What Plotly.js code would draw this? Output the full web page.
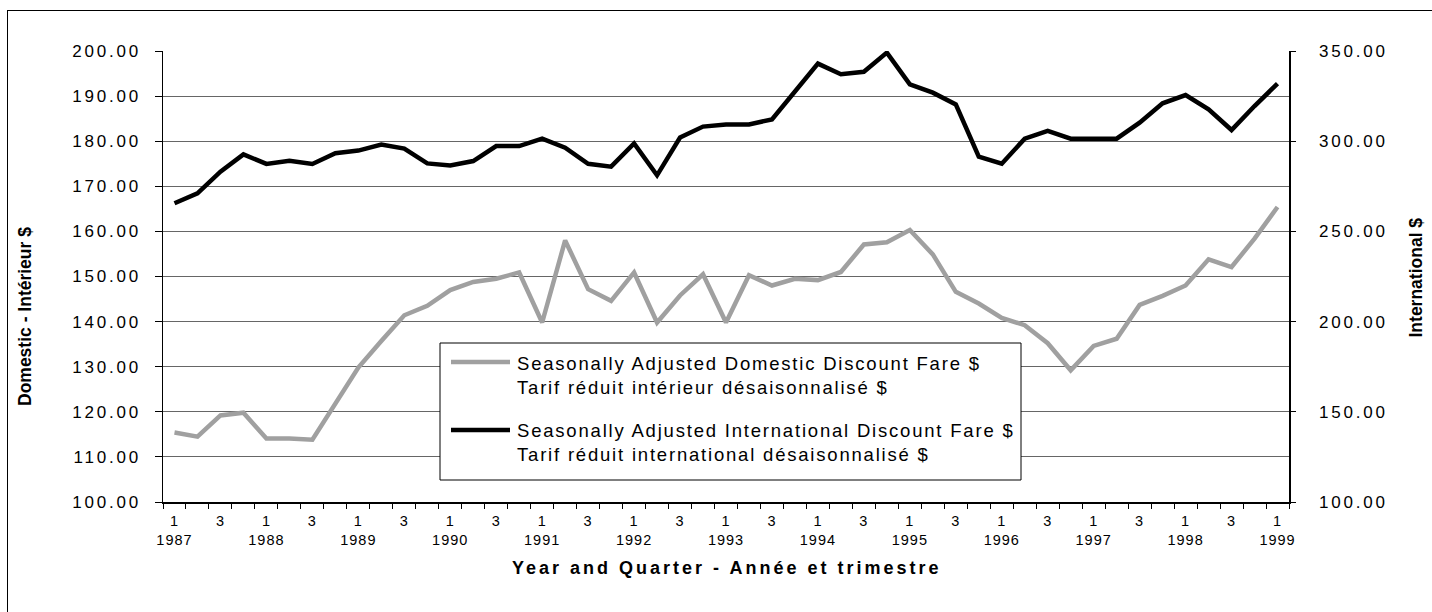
<!DOCTYPE html>
<html><head><meta charset="utf-8">
<script src="https://cdn.plot.ly/plotly-3.0.1.min.js"></script>
<style>
html,body{margin:0;padding:0;background:#fff;overflow:hidden;}
#frame{position:absolute;left:7px;top:10px;width:1425px;height:602px;box-sizing:border-box;border-left:1px solid #000;border-top:1px solid #000;}
#chart{position:absolute;left:0;top:0;width:1432px;height:612px;}
.ytick text,.y2tick text{letter-spacing:2.8px;}
.xtick text{letter-spacing:1px;}
</style></head><body>
<div id="frame"></div><div id="chart"></div>
<script>
const categories = [
 "1987 Q1","1987 Q2","1987 Q3","1987 Q4",
 "1988 Q1","1988 Q2","1988 Q3","1988 Q4",
 "1989 Q1","1989 Q2","1989 Q3","1989 Q4",
 "1990 Q1","1990 Q2","1990 Q3","1990 Q4",
 "1991 Q1","1991 Q2","1991 Q3","1991 Q4",
 "1992 Q1","1992 Q2","1992 Q3","1992 Q4",
 "1993 Q1","1993 Q2","1993 Q3","1993 Q4",
 "1994 Q1","1994 Q2","1994 Q3","1994 Q4",
 "1995 Q1","1995 Q2","1995 Q3","1995 Q4",
 "1996 Q1","1996 Q2","1996 Q3","1996 Q4",
 "1997 Q1","1997 Q2","1997 Q3","1997 Q4",
 "1998 Q1","1998 Q2","1998 Q3","1998 Q4",
 "1999 Q1"
];
const domestic = [
 115.4,114.5,119.2,119.8,
 114.1,114.1,113.8,122.0,
 129.8,135.7,141.4,143.5,
 147.0,148.8,149.5,150.9,
 139.8,158.0,147.2,144.6,
 150.9,139.8,145.8,150.5,
 139.8,150.3,148.0,149.5,
 149.2,151.0,157.1,157.6,
 160.3,154.9,146.6,144.0,
 140.8,139.2,135.2,129.2,
 134.6,136.2,143.7,145.7,
 148.0,153.8,152.1,158.4,
 165.4
];
const international = [
 265.6,271.1,283.1,292.7,
 287.4,289.2,287.4,293.3,
 294.8,298.1,295.9,287.7,
 286.6,289.0,297.3,297.3,
 301.4,296.4,287.5,285.9,
 298.8,281.1,302.0,308.1,
 309.2,309.3,312.1,327.8,
 343.0,337.1,338.5,349.1,
 331.5,326.9,320.4,291.4,
 287.5,301.4,305.7,301.4,
 301.4,301.4,310.3,321.0,
 325.6,317.7,306.2,319.5,
 331.9
];
const domesticName = ["Seasonally Adjusted Domestic Discount Fare $","Tarif réduit intérieur désaisonnalisé $"];
const internationalName = ["Seasonally Adjusted International Discount Fare $","Tarif réduit international désaisonnalisé $"];
const xTitle = "Year and Quarter - Année et trimestre";
const yTitle = "Domestic - Intérieur $";
const y2Title = "International $";

const xTickText = categories.map(c => {
  const [yr, q] = c.split(" ");
  if (q === "Q1") return "1<br>" + yr;
  if (q === "Q3") return "3";
  return "";
});

const FONT = '"Liberation Sans", Arial, sans-serif';
const GREY = '#a0a0a0';

// plot area in px: x 163..1289, y 51..502
const L = 163, R = 1289, T = 51, B = 502;
const px = x => (x - L) / (R - L);
const py = y => (B - y) / (B - T);

const traces = [
  {x: categories, y: domestic, name: domesticName.join(" "), type: 'scatter', mode: 'lines',
   line: {color: GREY, width: 4.5}, yaxis: 'y', hoverinfo: 'skip'},
  {x: categories, y: international, name: internationalName.join(" "), type: 'scatter', mode: 'lines',
   line: {color: '#000', width: 4.5}, yaxis: 'y2', hoverinfo: 'skip'}
];

const sp = (t, s) => '<span style="letter-spacing:' + s + 'px">' + t + '</span>';

const layout = {
  width: 1432, height: 612,
  margin: {l: L, r: 1432 - R, t: T, b: 612 - B, pad: 0},
  paper_bgcolor: 'rgba(0,0,0,0)', plot_bgcolor: 'rgba(0,0,0,0)',
  showlegend: false,
  font: {family: FONT, color: '#000'},
  xaxis: {type: 'category', tickmode: 'array', tickvals: categories, ticktext: xTickText,
    tickson: 'boundaries', ticks: 'outside', ticklen: 5, tickcolor: '#000', tickwidth: 1,
    showline: true, linecolor: '#000', linewidth: 1.5, showgrid: false,
    range: [-0.5, categories.length - 0.5], tickfont: {size: 14.5, family: FONT}, tickangle: 0,
    ticklabelstandoff: 5},
  yaxis: {range: [100, 200], tick0: 100, dtick: 10, tickformat: '.2f',
    showgrid: true, gridcolor: '#666666', gridwidth: 1,
    showline: true, linecolor: '#000', linewidth: 1.5, ticks: 'outside', ticklen: 7,
    tickcolor: '#000', tickfont: {size: 17, family: FONT}, zeroline: false, ticklabelstandoff: 10},
  yaxis2: {overlaying: 'y', side: 'right', range: [100, 350], tick0: 100, dtick: 50, tickformat: '.2f',
    showgrid: false, showline: true, linecolor: '#000', linewidth: 1.5, ticks: 'outside', ticklen: 5,
    tickcolor: '#000', tickfont: {size: 17, family: FONT}, zeroline: false, ticklabelstandoff: 20},
  shapes: [
    {type: 'rect', xref: 'paper', yref: 'paper', x0: px(440), x1: px(1021), y0: py(480), y1: py(343),
     fillcolor: '#fff', line: {color: '#000', width: 1}, layer: 'above'},
    {type: 'line', xref: 'paper', yref: 'paper', x0: px(451), x1: px(510), y0: py(362), y1: py(362),
     line: {color: GREY, width: 4.5}, layer: 'above'},
    {type: 'line', xref: 'paper', yref: 'paper', x0: px(451), x1: px(510), y0: py(430), y1: py(430),
     line: {color: '#000', width: 4.5}, layer: 'above'}
  ],
  annotations: [
    {xref: 'paper', yref: 'paper', x: px(515), y: py(375), xanchor: 'left', yanchor: 'middle', align: 'left',
     showarrow: false, text: sp(domesticName[0], 1.8) + '<br>' + sp(domesticName[1], 1.8),
     font: {size: 18.5, family: FONT, color: '#000'}},
    {xref: 'paper', yref: 'paper', x: px(515), y: py(442.5), xanchor: 'left', yanchor: 'middle', align: 'left',
     showarrow: false, text: sp(internationalName[0], 1.8) + '<br>' + sp(internationalName[1], 1.8),
     font: {size: 18.5, family: FONT, color: '#000'}},
    {xref: 'paper', yref: 'paper', x: 0.5, y: py(568), xanchor: 'center', yanchor: 'middle',
     showarrow: false, text: sp(xTitle, 3), font: {size: 18, family: FONT, color: '#000', weight: 700}},
    {xref: 'paper', yref: 'paper', x: px(25), y: py(317), xanchor: 'center', yanchor: 'middle',
     showarrow: false, textangle: -90, text: yTitle, font: {size: 17.5, family: FONT, color: '#000', weight: 700}},
    {xref: 'paper', yref: 'paper', x: px(1415), y: py(277.5), xanchor: 'center', yanchor: 'middle',
     showarrow: false, textangle: -90, text: y2Title, font: {size: 17.5, family: FONT, color: '#000', weight: 700}}
  ]
};

Plotly.newPlot('chart', traces, layout, {staticPlot: true, displayModeBar: false});
</script>
</body></html>
